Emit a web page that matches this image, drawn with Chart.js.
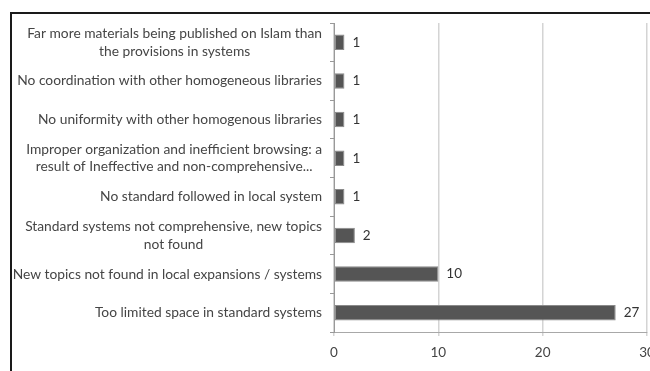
<!DOCTYPE html>
<html>
<head>
<meta charset="utf-8">
<script src="https://cdn.jsdelivr.net/npm/chart.js@4.4.1/dist/chart.umd.min.js"></script>
<style>
  html, body { margin: 0; padding: 0; background: #fff; overflow: hidden; width: 650px; height: 371px; }
  #frame { position: absolute; left: 10px; top: 12px; width: 720px; height: 420px;
           border-left: 2px solid #1a1a1a; border-top: 2px solid #1a1a1a; }
  #chart { position: absolute; left: 0; top: 0; }
</style>
</head>
<body>
<div id="frame"></div>
<canvas id="chart" width="700" height="371"></canvas>
<script>
// categories (multi-line ones kept as arrays of lines)
const categories = [
  ['Far more materials being published on Islam than', 'the provisions in systems'],
  'No coordination with other homogeneous libraries',
  'No uniformity with other homogenous libraries',
  ['Improper organization and inefficient browsing: a', 'result of Ineffective and non-comprehensive...'],
  'No standard followed in local system',
  ['Standard systems not comprehensive, new topics', 'not found'],
  'New topics not found in local expansions / systems',
  'Too limited space in standard systems'
];
const counts = [1, 1, 1, 1, 1, 2, 10, 27];
const xTicks = [0, 10, 20, 30];

const labelFont = '13.8px Lato';
const textColor = '#454545';

// category labels: block right-aligned to the axis, lines centred inside the block (Excel style)
const categoryLabels = {
  id: 'categoryLabels',
  afterDraw(chart) {
    const ctx = chart.ctx;
    const yScale = chart.scales.y;
    ctx.save();
    ctx.font = labelFont;
    ctx.fillStyle = textColor;
    ctx.textAlign = 'center';
    ctx.textBaseline = 'middle';
    categories.forEach((cat, i) => {
      const lines = Array.isArray(cat) ? cat : [cat];
      const maxW = Math.max(...lines.map(l => ctx.measureText(l).width));
      const cx = yScale.right - 12 - maxW / 2;
      const cy = yScale.getPixelForValue(i);
      lines.forEach((l, j) => {
        ctx.fillText(l, cx, cy + (j - (lines.length - 1) / 2) * 17.5);
      });
    });
    ctx.restore();
  }
};

// value labels next to each bar
const valueLabels = {
  id: 'valueLabels',
  afterDatasetsDraw(chart) {
    const ctx = chart.ctx;
    const meta = chart.getDatasetMeta(0);
    ctx.save();
    ctx.font = '13.5px Lato';
    ctx.fillStyle = '#333';
    ctx.textAlign = 'left';
    ctx.textBaseline = 'middle';
    meta.data.forEach((bar, i) => {
      ctx.fillText(String(counts[i]), bar.x + 8, bar.y);
    });
    ctx.restore();
  }
};

new Chart(document.getElementById('chart'), {
  type: 'bar',
  data: {
    labels: categories,
    datasets: [{
      data: counts,
      backgroundColor: '#555555',
      borderColor: '#8a8a8a',
      borderWidth: 1,
      borderSkipped: false,
      barPercentage: 0.4,
      categoryPercentage: 1
    }]
  },
  options: {
    indexAxis: 'y',
    responsive: false,
    animation: false,
    layout: { padding: { top: 23, right: 53, left: 0, bottom: 0 } },
    plugins: { legend: { display: false }, tooltip: { enabled: false } },
    scales: {
      x: {
        min: xTicks[0],
        max: xTicks[xTicks.length - 1],
        afterBuildTicks(scale) { scale.ticks = xTicks.map(v => ({ value: v })); },
        afterFit(scale) { scale.height = 39; },
        grid: { color: '#d4d4d4', lineWidth: 1.5, tickLength: 4 },
        border: { color: '#a8a8a8', width: 1 },
        ticks: { color: '#444', font: { family: 'Lato', size: 13.5 }, padding: 9 }
      },
      y: {
        afterFit(scale) { scale.width = 334; },
        grid: { drawOnChartArea: false, color: '#999', tickLength: 4 },
        border: { color: '#999', width: 1 },
        ticks: { display: false }
      }
    }
  },
  plugins: [categoryLabels, valueLabels]
});
</script>
</body>
</html>
